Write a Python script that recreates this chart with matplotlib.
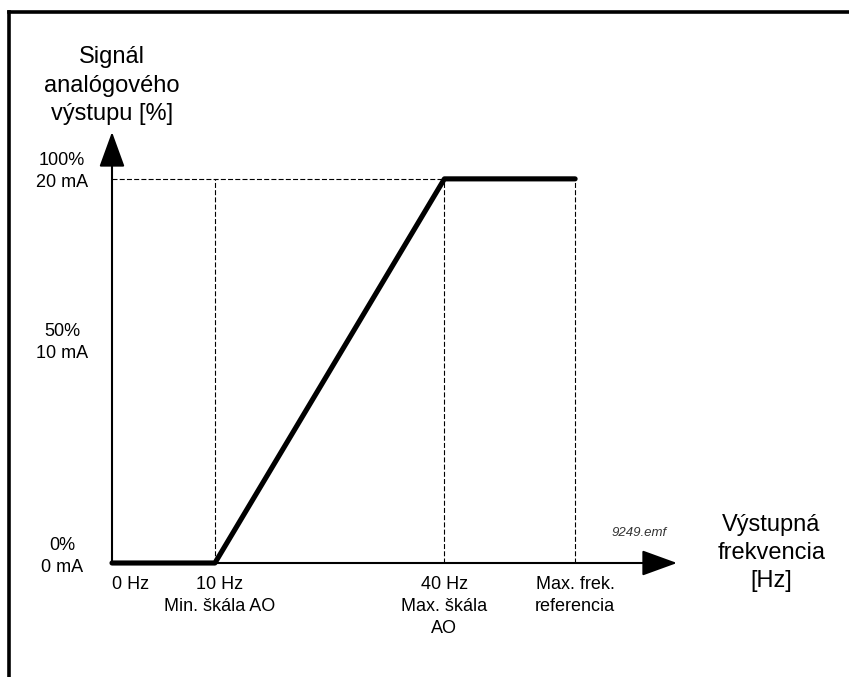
import matplotlib
matplotlib.use("Agg")
import matplotlib.pyplot as plt
from matplotlib.lines import Line2D

plt.rcParams["font.family"] = ["Liberation Sans", "DejaVu Sans"]
plt.rcParams["lines.scale_dashes"] = False

# Schematic placement of the marked frequencies along the horizontal axis
x_pos = [0.0, 10.0, 32.3, 45.0]
x_top = ["0 Hz", "10 Hz", "40 Hz", "Max. frek."]
x_bottom = ["", "Min. škála AO", "Max. škála\nAO", "referencia"]

# Analog output signal (%) at each marked frequency
signal_pct = [0, 0, 100, 100]

# Signal levels annotated on the vertical axis
y_levels = [100, 50, 0]
y_labels = ["100%\n20 mA", "50%\n10 mA", "0%\n0 mA"]

X_MAX = 54.9
Y_MAX = 112.2

fig = plt.figure(figsize=(8.49, 6.77), dpi=100)
W, H = 849, 677
ax = fig.add_axes([112 / W, (H - 563) / H, (677 - 112) / W, (563 - 132) / H])
ax.set_xlim(0, X_MAX)
ax.set_ylim(0, Y_MAX)
ax.axis("off")

# Frame
fig.add_artist(Line2D([9 / W, 9 / W], [0, 1 - 12 / H], color="black", lw=2.6,
                      transform=fig.transFigure, solid_capstyle="projecting"))
fig.add_artist(Line2D([9 / W, 1], [1 - 12 / H, 1 - 12 / H], color="black", lw=2.6,
                      transform=fig.transFigure, solid_capstyle="projecting"))

# Dashed guides
dash = dict(color="black", lw=0.8, linestyle=(0, (3.6, 1.6)), clip_on=False)
ax.plot([0, x_pos[2]], [100, 100], **dash)
for xp in x_pos[1:]:
    ax.plot([xp, xp], [0, 100], **dash)

# Axes with arrowheads
arrow = dict(arrowstyle="-|>,head_length=2.2,head_width=0.8", color="black",
             lw=1.5, shrinkA=0, shrinkB=0)
ax.annotate("", xy=(X_MAX, 0), xytext=(0, 0), arrowprops=arrow, annotation_clip=False)
ax.annotate("", xy=(0, Y_MAX), xytext=(0, 0), arrowprops=arrow, annotation_clip=False)

# Output characteristic
ax.plot(x_pos, signal_pct, color="black", lw=3.7, solid_capstyle="round",
        solid_joinstyle="round", clip_on=False, zorder=5)

fs_tick = 13
fs_title = 17
ls = 1.38

# Vertical axis labels
y_text_pos = {100: 101.8, 50: 57.5, 0: 1.6}
for lv, lab in zip(y_levels, y_labels):
    ax.text(-4.85, y_text_pos[lv], lab, ha="center", va="center", fontsize=fs_tick,
            linespacing=ls, clip_on=False)

# Horizontal axis labels
for xp, top, bot in zip(x_pos, x_top, x_bottom):
    if xp == 0:
        ax.text(xp, -3.5, top, ha="left", va="top", fontsize=fs_tick, clip_on=False)
        continue
    lab = top + ("\n" + bot if bot else "")
    xc = xp + (0.45 if bot.startswith("Min") else 0)
    ax.text(xc, -3.5, lab, ha="center", va="top", fontsize=fs_tick,
            linespacing=ls, clip_on=False)

# Axis titles
ax.text(0, 124.3, "Signál\nanalógového\nvýstupu [%]", ha="center", va="center",
        fontsize=fs_title, linespacing=ls, clip_on=False)
ax.text((772 - 112) / 10.3, (563 - 553) / 3.84, "Výstupná\nfrekvencia\n[Hz]",
        ha="center", va="center", fontsize=fs_title, linespacing=ls, clip_on=False)

ax.text((640 - 112) / 10.3, (563 - 533) / 3.84, "9249.emf", ha="center", va="center",
        fontsize=9.5, style="italic", color="#333333", clip_on=False)

fig.savefig("out.png", dpi=100)
